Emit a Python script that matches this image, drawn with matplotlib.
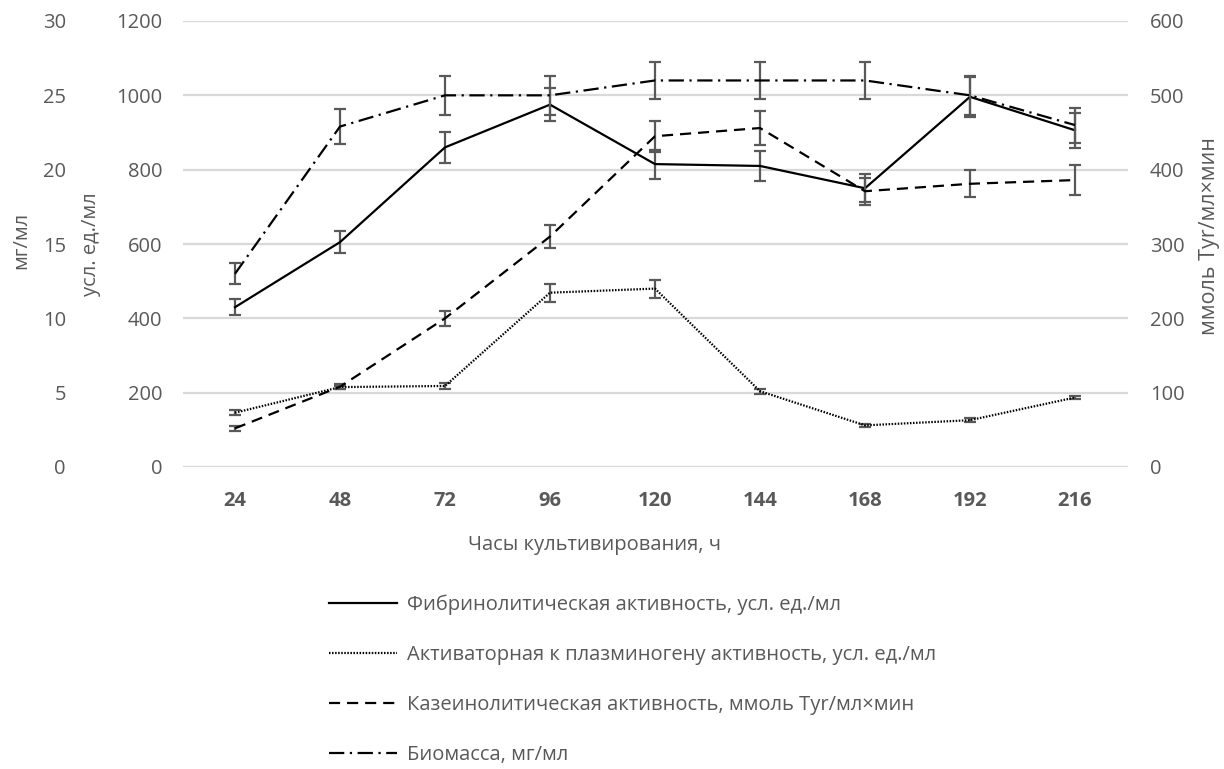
import numpy as np
import matplotlib
matplotlib.use("Agg")
import matplotlib.pyplot as plt
from matplotlib.lines import Line2D

plt.rcParams['font.family'] = ['Open Sans', 'DejaVu Sans']
plt.rcParams['lines.scale_dashes'] = False

hours = ['24', '48', '72', '96', '120', '144', '168', '192', '216']

# усл. ед./мл
fibrin = [430, 605, 860, 975, 815, 810, 750, 996, 906]
fibrin_err = [22, 30, 41, 45, 39, 40, 38, 54, 47]
plasmin = [146, 215, 218, 469, 480, 204, 112, 126, 187]
plasmin_err = [7, 4, 8, 24, 24, 7, 5, 6, 4]
# ммоль Tyr/мл×мин
casein = [52, 108, 200, 310, 445, 456, 371, 381, 386]
casein_err = [3, 3, 10, 16, 21, 23, 18, 18, 20]
# мг/мл
biomass = [13.0, 22.9, 25.0, 25.0, 26.0, 26.0, 26.0, 25.0, 23.0]
biomass_err = [0.7, 1.15, 1.3, 1.3, 1.27, 1.27, 1.27, 1.3, 1.18]

names = ['Фибринолитическая активность, усл. ед./мл',
         'Активаторная к плазминогену активность, усл. ед./мл',
         'Казеинолитическая активность, ммоль Tyr/мл×мин',
         'Биомасса, мг/мл']

gray = '#595959'
x = np.arange(len(hours))

fig = plt.figure(figsize=(12.24, 7.69), dpi=100)
ax = fig.add_axes([182.5 / 1224, 1 - 467 / 769, 945 / 1224, 446 / 769])
ax_r = ax.twinx()
ax_b = ax.twinx()
ax_b.yaxis.tick_left()

eb = dict(ecolor=gray, elinewidth=1.6, capsize=4.5, capthick=1.6)
styles = ['-', (0, (1.1, 1.1)), (0, (8, 5)), (0, (11, 4, 1.6, 4))]

ax.errorbar(x, fibrin, yerr=fibrin_err, color='black', lw=1.6, ls=styles[0], **eb)
ax.errorbar(x, plasmin, yerr=plasmin_err, color='black', lw=1.6, ls=styles[1], **eb)
ax_r.errorbar(x, casein, yerr=casein_err, color='black', lw=1.6, ls=styles[2], **eb)
ax_b.errorbar(x, biomass, yerr=biomass_err, color='black', lw=1.6, ls=styles[3], **eb)

ax.set_xlim(-0.5, len(hours) - 0.5)
ax.set_ylim(0, 1200)
ax_r.set_ylim(0, 600)
ax_b.set_ylim(0, 30)
ax.set_yticks(np.arange(0, 1201, 200))
ax_r.set_yticks(np.arange(0, 601, 100))
ax_b.set_yticks(np.arange(0, 31, 5))
ax.set_xticks(x)
ax.set_xticklabels(hours, fontweight='bold')

ax.grid(axis='y', color='#d9d9d9', lw=1.6)
ax.set_axisbelow(True)
for a in (ax, ax_r, ax_b):
    for s in a.spines.values():
        s.set_visible(False)
    a.tick_params(length=0, labelsize=14.5, labelcolor=gray)
ax.tick_params(axis='y', pad=14.5)
ax.tick_params(axis='x', pad=17)
ax_r.tick_params(axis='y', pad=16)
ax_b.tick_params(axis='y', pad=84)

fig.text(91 / 1224, 1 - 244 / 769, 'усл. ед./мл', rotation=90, ha='center',
         va='center', fontsize=14.5, color=gray)
fig.text(21 / 1224, 1 - 240 / 769, 'мг/мл', rotation=90, ha='center',
         va='center', fontsize=14.5, color=gray)
fig.text(1210 / 1224, 1 - 236 / 769, 'ммоль Tyr/мл×мин', rotation=90,
         ha='center', va='center', fontsize=15.5, color=gray)
fig.text(594 / 1224, 1 - 545 / 769, 'Часы культивирования, ч', ha='center',
         va='center', fontsize=14.5, color=gray)

# legend keys: plain lines, no error bars
handles = [Line2D([], [], color='black', lw=1.6, ls=s) for s in styles]
fig.legend(handles, names, loc='upper left',
           bbox_to_anchor=(329 / 1224, 1 - 595 / 769),
           frameon=False, fontsize=14.5, labelcolor=gray,
           handlelength=3.4, handletextpad=0.45, labelspacing=1.48,
           borderpad=0, borderaxespad=0)

fig.savefig('out.png', dpi=100)
